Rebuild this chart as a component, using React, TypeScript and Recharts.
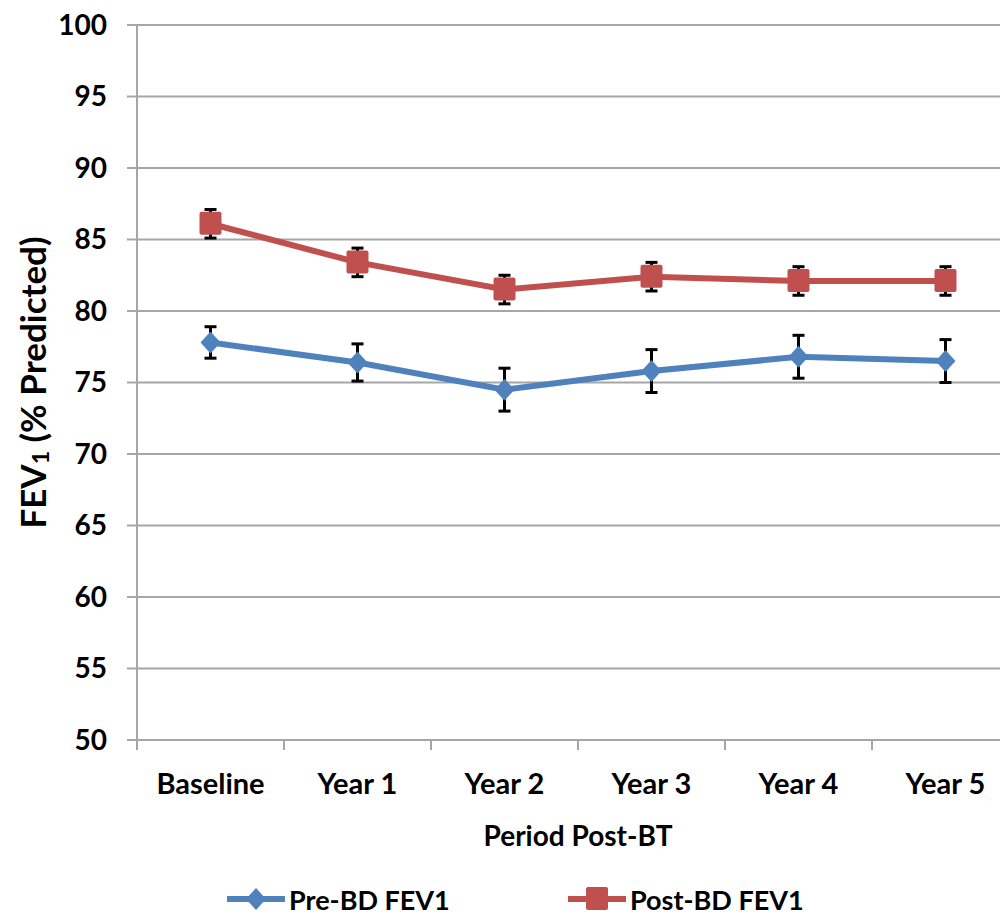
import React from 'react';
import { LineChart, Line, XAxis, YAxis, CartesianGrid, ErrorBar, Legend } from 'recharts';

// FEV1 over the follow-up period, mean with error bars
const categories = ['Baseline', 'Year 1', 'Year 2', 'Year 3', 'Year 4', 'Year 5'];
const preBD = [77.8, 76.4, 74.5, 75.8, 76.8, 76.5];
const preBDErr = [1.1, 1.3, 1.5, 1.5, 1.5, 1.5];
const postBD = [86.1, 83.4, 81.5, 82.4, 82.1, 82.1];
const postBDErr = [1.0, 1.0, 1.0, 1.0, 1.0, 1.0];
const yTicks = [50, 55, 60, 65, 70, 75, 80, 85, 90, 95, 100];

const BLUE = '#4F81BD';
const RED = '#C0504D';
const GRID = '#A6A6A6';
const FONT = 'Lato, "Open Sans", sans-serif';

// categories sit in the middle of each band, tick marks on the band edges
const data = categories.map((name, i) => ({
  x: i + 0.5,
  name,
  pre: preBD[i],
  preErr: preBDErr[i],
  post: postBD[i],
  postErr: postBDErr[i],
}));
const xTicks = categories.flatMap((_, i) => [i, i + 0.5]).concat(categories.length);

const series = [
  { key: 'pre', err: 'preErr', name: 'Pre-BD FEV1', color: BLUE, shape: 'diamond' },
  { key: 'post', err: 'postErr', name: 'Post-BD FEV1', color: RED, shape: 'square' },
];

const Marker = ({ cx, cy, shape, color }: any) => {
  if (cx == null || cy == null) return null;
  if (shape === 'diamond') {
    return (
      <polygon
        points={`${cx},${cy - 11} ${cx + 10},${cy} ${cx},${cy + 11} ${cx - 10},${cy}`}
        fill={color}
      />
    );
  }
  return <rect x={cx - 11} y={cy - 12} width={22} height={23} rx={2} fill={color} />;
};

const XTick = (props: any) => {
  const { x, y, payload } = props;
  const v = payload.value;
  if (Number.isInteger(v)) {
    return <line x1={x} x2={x} y1={y} y2={y + 10} stroke={GRID} strokeWidth={2} />;
  }
  return (
    <text x={x} y={y + 54} textAnchor="middle" fill="#000" fontFamily={FONT} fontWeight={700} fontSize={29}>
      {categories[Math.floor(v)]}
    </text>
  );
};

const renderXLabel = (props: any) => {
  const { viewBox } = props;
  return (
    <text
      x={viewBox.x + viewBox.width / 2}
      y={viewBox.y + 106}
      textAnchor="middle"
      fill="#000"
      fontFamily={FONT}
      fontWeight={700}
      fontSize={28}
    >
      Period Post-BT
    </text>
  );
};

const renderYLabel = (props: any) => {
  const { viewBox } = props;
  const cx = viewBox.x + 19;
  const cy = viewBox.y + viewBox.height / 2;
  return (
    <text
      transform={`translate(${cx},${cy}) rotate(-90)`}
      textAnchor="middle"
      dominantBaseline="central"
      fill="#000"
      fontFamily={FONT}
      fontWeight={700}
      fontSize={35}
    >
      <tspan>FEV</tspan>
      <tspan dy={8} fontSize={23}>1</tspan>
      <tspan dy={-8}> (% Predicted)</tspan>
    </text>
  );
};

const LegendContent = () => (
  <div style={{ display: 'flex', paddingLeft: 219, height: 34, alignItems: 'center' }}>
    {series.map((s, i) => (
      <div key={s.key} style={{ display: 'flex', alignItems: 'center', width: i === 0 ? 341 : 'auto' }}>
        <svg width={58} height={30}>
          <line x1={1} x2={57} y1={15} y2={15} stroke={s.color} strokeWidth={6} strokeLinecap="round" />
          <Marker cx={29} cy={15} shape={s.shape} color={s.color} />
        </svg>
        <span
          style={{
            marginLeft: 4,
            fontFamily: FONT,
            fontWeight: 700,
            fontSize: 27,
            color: '#000',
          }}
        >
          {s.name}
        </span>
      </div>
    ))}
  </div>
);

export default function App() {
  return (
    <div style={{ width: 1000, height: 908, overflow: 'hidden', background: '#fff' }}>
      <LineChart
        width={1020}
        height={908}
        data={data}
        margin={{ top: 17, right: 9, bottom: 66, left: 5 }}
      >
        <CartesianGrid horizontal vertical={false} stroke={GRID} strokeWidth={2} />
        <XAxis
          dataKey="x"
          type="number"
          domain={[0, categories.length]}
          ticks={xTicks}
          interval={0}
          tickLine={false}
          tickSize={0}
          tickMargin={0}
          tick={<XTick />}
          axisLine={{ stroke: GRID, strokeWidth: 2 }}
          height={110}
          label={{ content: renderXLabel }}
        />
        <YAxis
          type="number"
          domain={[50, 100]}
          ticks={yTicks}
          interval={0}
          width={124}
          tickSize={10}
          tickMargin={20}
          tickLine={{ stroke: GRID, strokeWidth: 2 }}
          axisLine={{ stroke: GRID, strokeWidth: 2 }}
          tick={{ fill: '#000', fontFamily: FONT, fontWeight: 700, fontSize: 28 }}
          label={{ content: renderYLabel }}
        />
        <Legend
          layout="horizontal"
          verticalAlign="middle"
          align="center"
          wrapperStyle={{ top: 874, left: 0, width: 1000, height: 34 }}
          content={<LegendContent />}
        />
        {series.map((s) => (
          <Line
            key={s.key}
            dataKey={s.key}
            name={s.name}
            type="linear"
            stroke={s.color}
            strokeWidth={6}
            isAnimationActive={false}
            dot={(p: any) => <Marker key={`${s.key}-${p.index}`} cx={p.cx} cy={p.cy} shape={s.shape} color={s.color} />}
            activeDot={false}
          >
            <ErrorBar dataKey={s.err} direction="y" width={6} stroke="#000" strokeWidth={3} />
          </Line>
        ))}
      </LineChart>
    </div>
  );
}
